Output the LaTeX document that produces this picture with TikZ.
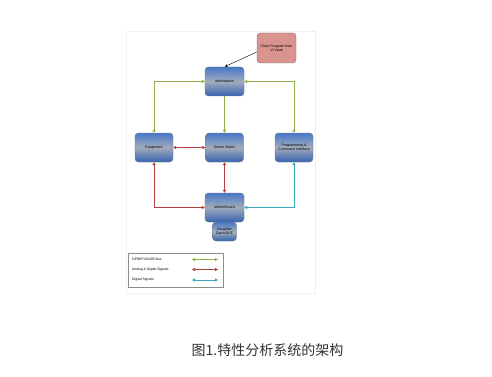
\documentclass[tikz,border=0pt]{standalone}
\usepackage{fontspec}
\setmainfont{Liberation Sans}
\newfontfamily\cjk{Noto Sans CJK SC}
\usetikzlibrary{arrows.meta}
\definecolor{busgreen}{HTML}{8DB04A}
\definecolor{sigred}{HTML}{B0403C}
\definecolor{digteal}{HTML}{3AA6BE}
\definecolor{boxtop}{HTML}{4677C8}
\definecolor{boxmid}{HTML}{A3ACBC}
\definecolor{boxbot}{HTML}{3563B0}
\definecolor{pinkbox}{HTML}{D99490}
\tikzset{
  tip/.style={arrows={-Triangle[length=3pt,width=3.2pt]}},
  tips/.style={arrows={Triangle[length=3pt,width=3.2pt]-Triangle[length=3pt,width=3.2pt]}},
  blk/.style={draw=black!55, line width=0.4pt, rounded corners=3.5pt,
    top color=boxtop, bottom color=boxbot, middle color=boxmid,
    align=center, font=\fontsize{3.6}{4.2}\selectfont, inner sep=0pt},
  pinkblk/.style={draw=black!55, line width=0.4pt, rounded corners=3.5pt,
    fill=pinkbox, align=center, font=\fontsize{3.6}{4.2}\selectfont, inner sep=0pt},
  bus/.style={draw=busgreen, line width=0.8pt, tip},
  busb/.style={draw=busgreen, line width=0.8pt, tips},
  sig/.style={draw=sigred, line width=0.8pt, tips},
  dig/.style={draw=digteal, line width=0.8pt, tips},
  lgtext/.style={anchor=west, font=\fontsize{3.4}{4}\selectfont, inner sep=0pt}
}
\begin{document}
\begin{tikzpicture}[x=1pt,y=-1pt]
\useasboundingbox (0,0) rectangle (492,377);
\fill[white] (0,0) rectangle (492,377);
% panel
\draw[draw=black!6, line width=0.6pt] (126,31) rectangle (315,293);
% boxes
\node[pinkblk, minimum width=39pt, minimum height=30pt] (clear) at (276.5,48) {Clear Program from\\VI Vault};
\node[blk, minimum width=39pt, minimum height=29pt] (ws) at (224.5,81.5) {Workstation};
\node[blk, minimum width=38pt, minimum height=29pt] (eq) at (154,147.5) {Equipment};
\node[blk, minimum width=38pt, minimum height=29pt] (sw) at (224.5,147.5) {Switch Matrix};
\node[blk, minimum width=38pt, minimum height=29pt] (pc) at (294,147.5) {Programming \&\\Command Interface};
\node[blk, minimum width=39pt, minimum height=29pt] (mb) at (224.5,207.5) {MotherBoard};
\node[blk, minimum width=24pt, minimum height=19pt] (dc) at (224.5,231.5) {Daughter\\Card+DUT};
% connectors
\draw[black, line width=0.4pt, arrows={-Triangle[length=2.4pt,width=2.4pt]}] (clear.west |- 0,52) -- (225,66.5);
\draw[busb] (ws.west) -| (eq.north);
\draw[busb] (ws.east) -| (pc.north);
\draw[bus] (ws.south) -- (sw.north);
\draw[sig] (eq.east) -- (sw.west);
\draw[sig] (sw.south) -- (mb.north);
\draw[sig] (eq.south) |- (mb.west);
\draw[dig] (pc.south) |- (mb.east);
% legend
\draw[draw=black!45, line width=0.4pt] (128,253) rectangle (223,287);
\node[lgtext] (l1) at (132,259.5) {GPIB/PXI/USB Bus};
\node[lgtext] (l2) at (132,269.5) {Analog \& Digital Signals};
\node[lgtext] (l3) at (132,280) {Digital Signals};
\coordinate (a1) at (192,259.5); \coordinate (b1) at (218,259.5);
\coordinate (a2) at (192,269.5); \coordinate (b2) at (218,269.5);
\coordinate (a3) at (192,280); \coordinate (b3) at (218,280);
\draw[busb] (a1) -- (b1);
\draw[sig] (a2) -- (b2);
\draw[dig] (a3) -- (b3);
% caption
\node[font=\cjk\fontsize{14}{16}\selectfont, text=black!80, inner sep=0pt] (cap) at (267.5,350) {图1.特性分析系统的架构};
\end{tikzpicture}
\end{document}
